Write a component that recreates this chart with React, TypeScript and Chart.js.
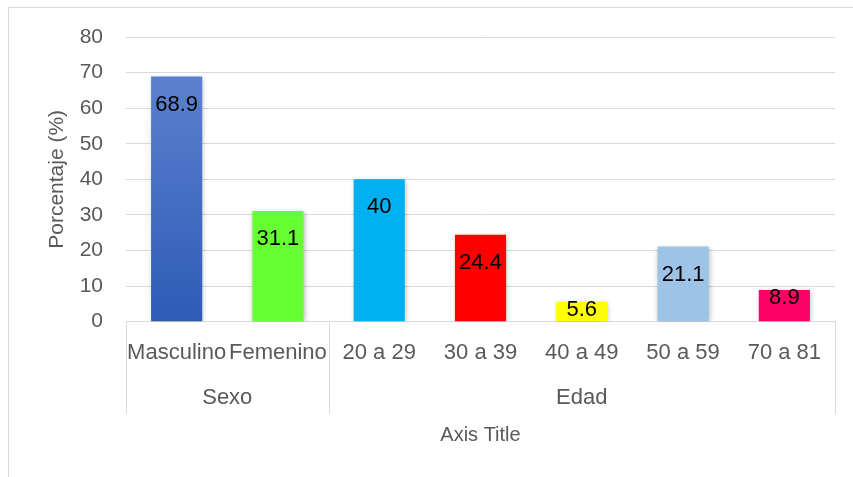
import React, { useEffect, useRef } from "react";
import { Chart, registerables } from "chart.js";

Chart.register(...registerables);

const categories = ["Masculino", "Femenino", "20 a 29", "30 a 39", "40 a 49", "50 a 59", "70 a 81"];
const values = [68.9, 31.1, 40, 24.4, 5.6, 21.1, 8.9];
const groupLabels = ["Sexo", "Edad"];
const groupSizes = [2, 5];
const barColors = ["#3F6CC4", "#66FF33", "#00B0F0", "#FF0000", "#FFFF00", "#9DC3E6", "#FF0066"];
const masculinoGradient = ["#6386D2", "#2D5CB5"];
const yMin = 0;
const yMax = 80;
const yStep = 10;
const yTitle = "Porcentaje (%)";
const xTitle = "Axis Title";

const FONT = "'Liberation Sans', Arial, sans-serif";
const TEXT = "#595959";
const GRID = "#d9d9d9";

const shadowPlugin = {
  id: "barShadow",
  beforeDatasetsDraw(chart: any) {
    const ctx = chart.ctx;
    ctx.save();
    ctx.shadowColor = "rgba(0,0,0,0.28)";
    ctx.shadowBlur = 5;
    ctx.shadowOffsetX = 1;
    ctx.shadowOffsetY = 1;
  },
  afterDatasetsDraw(chart: any) {
    chart.ctx.restore();
  },
};

const dataLabelPlugin = {
  id: "dataLabels",
  afterDatasetsDraw(chart: any) {
    const ctx = chart.ctx;
    const meta = chart.getDatasetMeta(0);
    ctx.save();
    ctx.font = `22px ${FONT}`;
    ctx.fillStyle = "#000000";
    ctx.textAlign = "center";
    ctx.textBaseline = "middle";
    meta.data.forEach((bar: any, i: number) => {
      const h = bar.base - bar.y;
      const cy = h > 50 ? bar.y + 28 : bar.y + 8;
      ctx.fillText(String(values[i]), bar.x, cy);
    });
    ctx.restore();
  },
};

const groupAxisPlugin = {
  id: "groupAxis",
  afterDraw(chart: any) {
    const ctx = chart.ctx;
    const xs = chart.scales.x;
    const half = (xs.getPixelForValue(1) - xs.getPixelForValue(0)) / 2;
    const top = xs.top;
    const sepBottom = top + 92;
    ctx.save();
    ctx.strokeStyle = GRID;
    ctx.lineWidth = 1;
    ctx.font = `22px ${FONT}`;
    ctx.fillStyle = TEXT;
    ctx.textAlign = "center";
    ctx.textBaseline = "middle";
    let start = 0;
    const edges: number[] = [xs.getPixelForValue(0) - half];
    groupLabels.forEach((lab, g) => {
      const end = start + groupSizes[g] - 1;
      const l = xs.getPixelForValue(start) - half;
      const r = xs.getPixelForValue(end) + half;
      edges.push(r);
      ctx.fillText(lab, (l + r) / 2, top + 76);
      start = end + 1;
    });
    edges.forEach((e) => {
      const px = Math.round(e) + 0.5;
      ctx.beginPath();
      ctx.moveTo(px, top);
      ctx.lineTo(px, sepBottom);
      ctx.stroke();
    });
    ctx.restore();
  },
};

export default function App() {
  const ref = useRef<HTMLCanvasElement | null>(null);

  useEffect(() => {
    if (!ref.current) return;
    const chart = new Chart(ref.current, {
      type: "bar",
      data: {
        labels: categories,
        datasets: [
          {
            data: values,
            backgroundColor: (c: any) => {
              const i = c.dataIndex;
              if (i === 0) {
                const area = c.chart.chartArea;
                if (!area) return barColors[0];
                const g = c.chart.ctx.createLinearGradient(0, area.top, 0, area.bottom);
                g.addColorStop(0, masculinoGradient[0]);
                g.addColorStop(1, masculinoGradient[1]);
                return g;
              }
              return barColors[i];
            },
            borderWidth: 0,
            categoryPercentage: 1,
            barPercentage: 0.505,
          },
        ],
      },
      options: {
        responsive: false,
        animation: false,
        devicePixelRatio: 1,
        layout: { padding: { top: 37, right: 18, left: 0, bottom: 0 } },
        plugins: {
          legend: { display: false },
          tooltip: { enabled: false },
          title: { display: false },
        },
        scales: {
          x: {
            grid: { display: false, drawTicks: false },
            border: { display: true, color: GRID, width: 1 },
            ticks: {
              autoSkip: false,
              maxRotation: 0,
              minRotation: 0,
              padding: 18,
              color: TEXT,
              font: { family: FONT, size: 22, lineHeight: 1.2 },
            },
            title: {
              display: true,
              text: xTitle,
              color: TEXT,
              font: { family: FONT, size: 20, lineHeight: 1.2 },
              padding: { top: 0, bottom: 30 },
            },
            afterFit: (s: any) => {
              s.height = 155.3;
            },
          },
          y: {
            min: yMin,
            max: yMax,
            ticks: {
              stepSize: yStep,
              padding: 23,
              color: TEXT,
              font: { family: FONT, size: 21, lineHeight: 1.2 },
            },
            grid: { color: GRID, lineWidth: 1, drawTicks: false },
            border: { display: false },
            title: {
              display: true,
              text: yTitle,
              color: TEXT,
              font: { family: FONT, size: 21, lineHeight: 1.2 },
              padding: { top: 45, bottom: 0 },
            },
            afterFit: (s: any) => {
              s.width = 126;
            },
          },
        },
      },
      plugins: [shadowPlugin, dataLabelPlugin, groupAxisPlugin],
    });
    return () => chart.destroy();
  }, []);

  return (
    <div
      style={{
        position: "fixed",
        left: 0,
        top: 0,
        width: 853,
        height: 477,
        overflow: "hidden",
        background: "#ffffff",
      }}
    >
      <div
        style={{
          position: "absolute",
          left: 8,
          top: 7,
          width: 1000,
          height: 1000,
          border: `1px solid ${GRID}`,
          boxSizing: "border-box",
        }}
      />
      <canvas
        ref={ref}
        width={853}
        height={477}
        style={{ position: "absolute", left: 0, top: 0, width: 853, height: 477 }}
      />
    </div>
  );
}
